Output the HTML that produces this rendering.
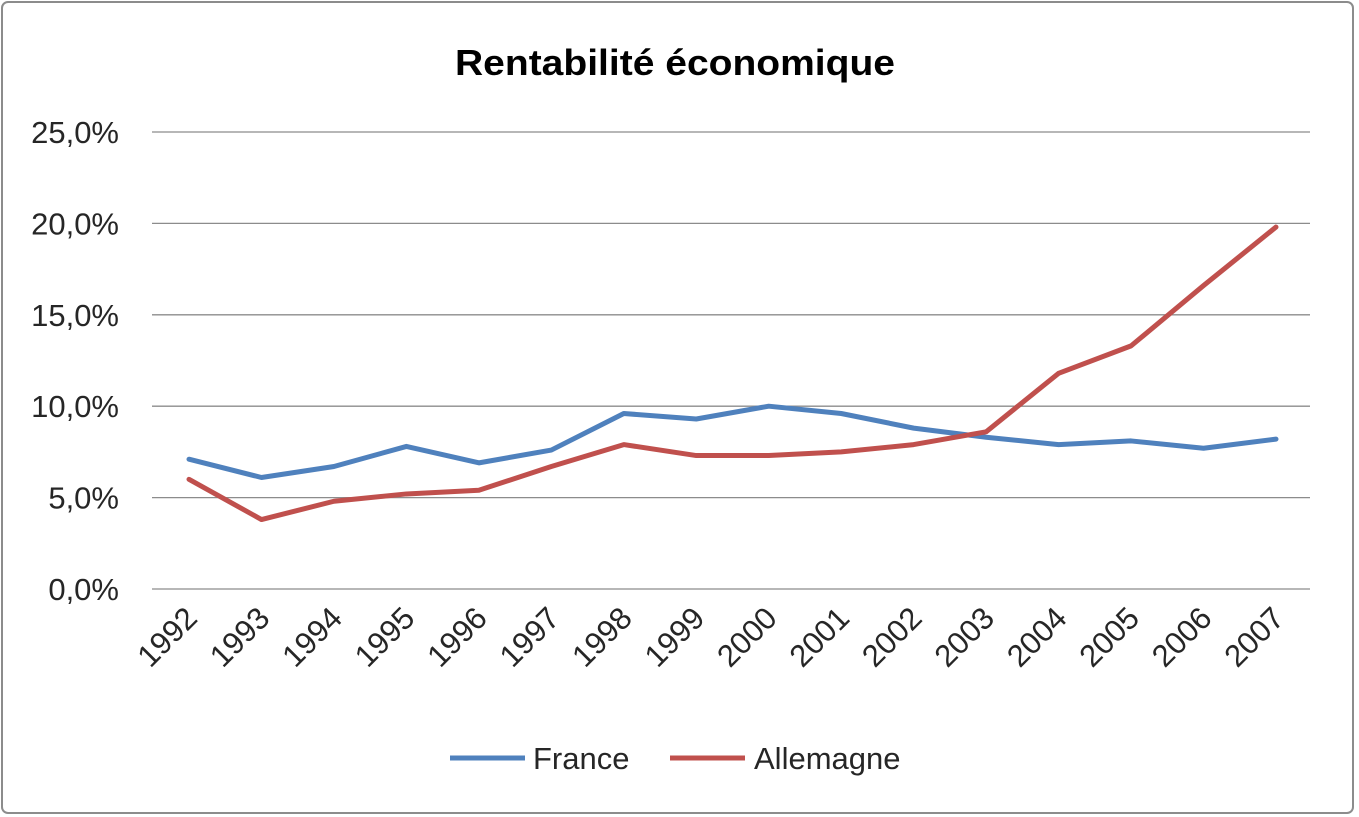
<!DOCTYPE html>
<html><head><meta charset="utf-8"><style>
html,body{margin:0;padding:0;background:#fff;}
svg{display:block;font-family:"Liberation Sans",sans-serif;}
</style></head><body>
<svg id="chart" width="1359" height="817" viewBox="0 0 1359 817">
<rect x="2" y="2" width="1351" height="811" rx="6" fill="#fff" stroke="#8c8c8c" stroke-width="2"/>
<text x="675" y="75" text-anchor="middle" font-size="36" font-weight="bold" fill="#000" textLength="440" lengthAdjust="spacingAndGlyphs">Rentabilité économique</text>
<g id="grid"></g><g id="ylabels"></g><g id="xlabels"></g><g id="series"></g>
<g>
<line x1="450" y1="758" x2="525" y2="758" stroke="#4f81bd" stroke-width="5"/>
<text x="533" y="769" font-size="31" fill="#262626">France</text>
<line x1="670" y1="758" x2="745" y2="758" stroke="#c0504d" stroke-width="5"/>
<text x="754" y="769" font-size="31" fill="#262626">Allemagne</text>
</g>
</svg>
<script>
const categories=["1992","1993","1994","1995","1996","1997","1998","1999","2000","2001","2002","2003","2004","2005","2006","2007"];
const france=[7.1,6.1,6.7,7.8,6.9,7.6,9.6,9.3,10.0,9.6,8.8,8.3,7.9,8.1,7.7,8.2];
const allemagne=[6.0,3.8,4.8,5.2,5.4,6.7,7.9,7.3,7.3,7.5,7.9,8.6,11.8,13.3,16.6,19.8];
const yTicks=[0,5,10,15,20,25];
const yTickLabels=["0,0%","5,0%","10,0%","15,0%","20,0%","25,0%"];
const NS="http://www.w3.org/2000/svg";
const x0=189,x1=1276,yB=589,yT=132,yMax=25,L=152,R=1310;
const xs=i=>x0+(x1-x0)*i/(categories.length-1);
const ys=v=>yB-(yB-yT)*v/yMax;
function mk(t,a,p){const e=document.createElementNS(NS,t);for(const k in a)e.setAttribute(k,a[k]);p.appendChild(e);return e;}
const g=document.getElementById('grid'),yl=document.getElementById('ylabels'),xl=document.getElementById('xlabels'),sg=document.getElementById('series');
yTicks.forEach((v,i)=>{
 const l=mk('line',{x1:L,x2:R,y1:ys(v),y2:ys(v),stroke:'#8c8c8c','stroke-width':1.3},g);
 
 
 const t=mk('text',{x:119,y:ys(v)+11,'text-anchor':'end','font-size':31,fill:'#262626'},yl);
 t.textContent=yTickLabels[i];
 
 
});
categories.forEach((c,i)=>{
 const x=xs(i)+10,y=620;
 const t=mk('text',{x:x,y:y,'text-anchor':'end','font-size':31,fill:'#262626',transform:`rotate(-45 ${x} ${y})`},xl);
 t.textContent=c;
 
 
});
function line(data,color,name){
 const p=mk('polyline',{points:data.map((v,i)=>xs(i)+','+ys(v)).join(' '),fill:'none',stroke:color,'stroke-width':5,'stroke-linejoin':'round','stroke-linecap':'round'},sg);
 
 
}
line(france,'#4f81bd','series-france');
line(allemagne,'#c0504d','series-allemagne');
</script>
</body></html>
